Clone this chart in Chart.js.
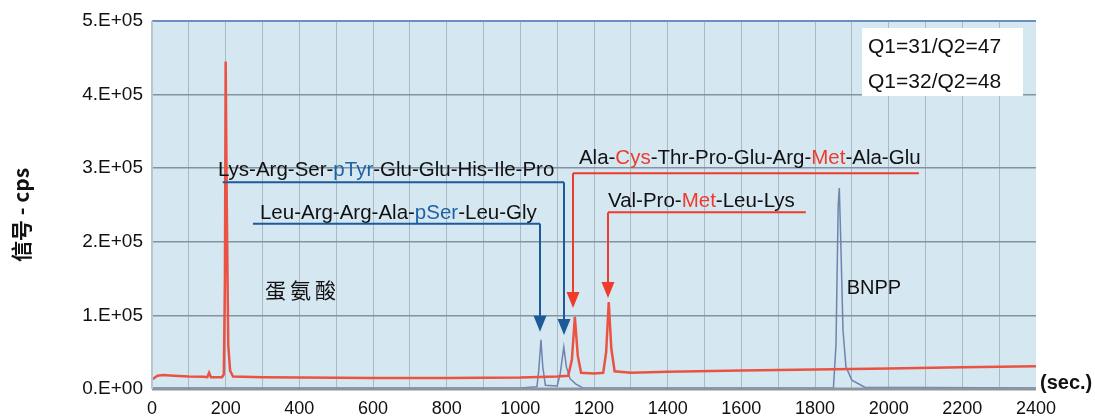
<!DOCTYPE html>
<html><head><meta charset="utf-8">
<script src="https://cdn.jsdelivr.net/npm/chart.js@4.4.0/dist/chart.umd.min.js"></script>
<style>html,body{margin:0;padding:0;background:#fff;}#wrap{width:1095px;height:418px;position:relative;}</style>
</head><body><div id="wrap"><canvas id="c" width="1095" height="418"></canvas></div>
<script>
// ---- data ----
const xTickValues = [0,200,400,600,800,1000,1200,1400,1600,1800,2000,2200,2400];
const yTickLabels = ['0.E+00','1.E+05','2.E+05','3.E+05','4.E+05','5.E+05'];

// red trace (Met-containing peptides / methionine), time in sec.
const redTimes  = [0,15,30,60,100,140,150,155,160,190,195,198,200,203,207,212,220,300,400,600,800,1000,1100,1130,1140,1148,1156,1165,1200,1225,1233,1240,1247,1256,1300,1400,1600,1800,2000,2200,2400];
const redSignal = [13000,18000,19000,18000,17000,16500,16000,22000,16000,16000,20000,150000,445000,250000,60000,25000,17000,16000,15500,15000,15000,15500,17000,18000,40000,98000,45000,22000,21000,22000,50000,118000,55000,24000,22000,23500,25000,26500,28000,29500,31000];

// blue trace (phosphopeptides + BNPP)
const blueTimes  = [0,1000,1045,1050,1056,1061,1068,1100,1108,1118,1125,1135,1150,1170,1850,1857,1863,1866,1870,1876,1884,1900,1935,2400];
const blueSignal = [1500,1500,3000,25000,67000,30000,5000,4000,20000,57000,30000,14000,7000,1500,1500,60000,250000,273000,200000,80000,30000,12000,2500,1500];

// ---- annotation text (real text) ----
const peptideLabels = [
  {parts:[['Lys-Arg-Ser-','#111'],['pTyr','#1f63a6'],['-Glu-Glu-His-Ile-Pro','#111']], color:'#1d5a9a',
   textT:179, textV:297600, lineV:280800, lineT0:192, lineT1:1118.6, arrowT:1118.6, tipV:73400},
  {parts:[['Leu-Arg-Arg-Ala-','#111'],['pSer','#1f63a6'],['-Leu-Gly','#111']], color:'#1d5a9a',
   textT:293, textV:239000, lineV:224600, lineT0:274, lineT1:1053.4, arrowT:1053.4, tipV:77900},
  {parts:[['Ala-','#111'],['Cys','#ee3b2b'],['-Thr-Pro-Glu-Arg-','#111'],['Met','#ee3b2b'],['-Ala-Glu','#111']], color:'#ee3b2b',
   textT:1159, textV:313900, lineV:293100, lineT0:1143, lineT1:2082, arrowT:1143, tipV:110000},
  {parts:[['Val-Pro-','#111'],['Met','#ee3b2b'],['-Leu-Lys','#111']], color:'#ee3b2b',
   textT:1238, textV:254500, lineV:240000, lineT0:1238, lineT1:1775, arrowT:1238, tipV:123600}
];
const compoundLabels = [
  {text:'蛋氨酸', t:307, v:134500, font:'21px "Noto Sans CJK SC"', spacing:4},
  {text:'BNPP', t:1886, v:136800, font:'20px "Liberation Sans"', spacing:0}
];
const transitionLines = ['Q1=31/Q2=47','Q1=32/Q2=48'];

const redPts  = redTimes.map((t,i)=>({x:t,y:redSignal[i]}));
const bluePts = blueTimes.map((t,i)=>({x:t,y:blueSignal[i]}));

const decor = {
  id:'decor',
  beforeDraw(chart){
    const {ctx, chartArea:a} = chart;
    ctx.save();
    ctx.fillStyle = '#d5e7f1';
    ctx.fillRect(a.left, a.top, a.right-a.left, a.bottom-a.top);
    ctx.restore();
  },
  afterDatasetsDraw(chart){
    const {ctx, chartArea:a, scales:{x,y}} = chart;
    ctx.save();
    // borders
    ctx.strokeStyle = '#6d8fbf'; ctx.lineWidth = 2;
    ctx.beginPath(); ctx.moveTo(a.left, a.top); ctx.lineTo(a.right, a.top); ctx.stroke();
    ctx.strokeStyle = '#8a97a2'; ctx.lineWidth = 3;
    ctx.beginPath(); ctx.moveTo(a.left, a.bottom); ctx.lineTo(a.right, a.bottom); ctx.stroke();
    ctx.strokeStyle = '#b8c6d0'; ctx.lineWidth = 2;
    ctx.beginPath(); ctx.moveTo(a.left, a.top); ctx.lineTo(a.left, a.bottom); ctx.stroke();

    // peptide annotations
    ctx.font = '20.5px "Liberation Sans"';
    ctx.textBaseline = 'middle';
    ctx.textAlign = 'left';
    peptideLabels.forEach(p=>{
      let px = x.getPixelForValue(p.textT);
      const py = y.getPixelForValue(p.textV);
      p.parts.forEach(([s,c])=>{ ctx.fillStyle=c; ctx.fillText(s,px,py); px += ctx.measureText(s).width; });
      const ly = y.getPixelForValue(p.lineV);
      const x0 = x.getPixelForValue(p.lineT0), x1 = x.getPixelForValue(p.lineT1);
      const ax = x.getPixelForValue(p.arrowT), ty = y.getPixelForValue(p.tipV);
      ctx.strokeStyle = p.color; ctx.lineWidth = 2;
      ctx.beginPath(); ctx.moveTo(x0, ly); ctx.lineTo(x1, ly); ctx.stroke();
      ctx.beginPath(); ctx.moveTo(ax, ly); ctx.lineTo(ax, ty-12); ctx.stroke();
      ctx.fillStyle = p.color;
      ctx.beginPath(); ctx.moveTo(ax, ty); ctx.lineTo(ax-6.5, ty-16); ctx.lineTo(ax+6.5, ty-16); ctx.closePath(); ctx.fill();
    });

    // compound labels
    compoundLabels.forEach(l=>{
      ctx.font = l.font; ctx.fillStyle = '#111';
      let px = x.getPixelForValue(l.t);
      const py = y.getPixelForValue(l.v);
      for (const ch of l.text){ ctx.fillText(ch, px, py); px += ctx.measureText(ch).width + l.spacing; }
    });

    // transition box
    ctx.fillStyle = '#ffffff';
    ctx.fillRect(862, 28, 161, 68);
    ctx.fillStyle = '#111';
    ctx.font = '21px "Liberation Sans"';
    transitionLines.forEach((s,i)=>ctx.fillText(s, 868, 47 + i*35));

    // unit label
    ctx.font = 'bold 20px "Liberation Sans"';
    ctx.fillText('(sec.)', 1040, 383);

    // y axis title
    ctx.translate(21, 215);
    ctx.rotate(-Math.PI/2);
    ctx.textAlign = 'center';
    ctx.font = 'bold 21px "Noto Sans CJK SC"';
    ctx.fillText('信号 - cps', 0, 0);
    ctx.restore();
  }
};

new Chart(document.getElementById('c'), {
  type:'line',
  data:{datasets:[
    {label:'red', data:redPts, borderColor:'#ea5343', borderWidth:2.5, pointRadius:0, tension:0, order:0},
    {label:'blue', data:bluePts, borderColor:'#6e84ad', borderWidth:1.5, pointRadius:0, tension:0, order:1}
  ]},
  options:{
    responsive:false, animation:false, events:[],
    layout:{padding:{left:0,right:59,top:21,bottom:0}},
    plugins:{legend:{display:false}, tooltip:{enabled:false}},
    scales:{
      x:{type:'linear', min:0, max:2400,
         afterFit(s){ s.height = 29; },
         border:{display:false},
         grid:{drawTicks:false, color:c=>(c.tick && c.tick.value>0 && c.tick.value<2400)?'#a9bac5':'rgba(0,0,0,0)', lineWidth:1},
         ticks:{stepSize:100, autoSkip:false, maxRotation:0, padding:9,
           font:{family:'"Liberation Sans"', size:18}, color:'#111',
           callback:v=>xTickValues.includes(v)?String(v):''}},
      y:{min:0, max:500000,
         afterFit(s){ s.width = 152; },
         border:{display:false},
         grid:{drawTicks:false, color:c=>(c.tick && c.tick.value>0)?'#8394a0':'rgba(0,0,0,0)', lineWidth:1.5},
         ticks:{stepSize:100000, padding:9, font:{family:'"Liberation Sans"', size:19}, color:'#111',
           callback:v=>yTickLabels[Math.round(v/100000)]}}
    }
  },
  plugins:[decor]
});
</script></body></html>
